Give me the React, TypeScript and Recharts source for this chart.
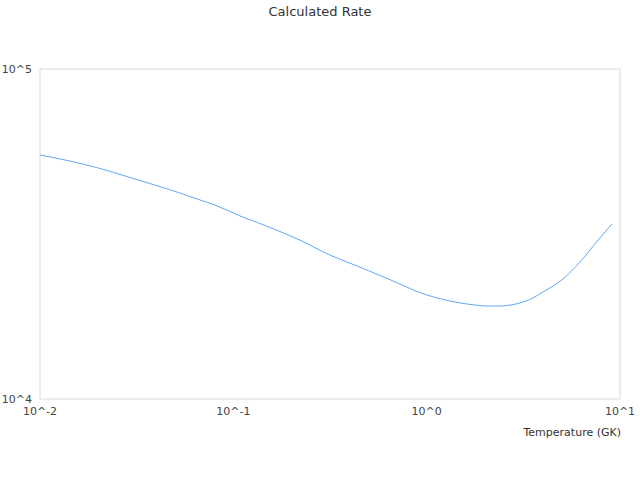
import { LineChart, Line, XAxis, YAxis, ReferenceArea } from "recharts";

const temperatures = [
  0.01, 0.0143, 0.0196, 0.0292, 0.0418, 0.053, 0.0672, 0.0804, 0.108,
  0.149, 0.221, 0.316, 0.401, 0.623, 0.728, 0.924, 1.08, 1.62, 2.13, 2.39,
  2.7, 3.04, 3.55, 3.86, 5.07, 6.21, 7.7, 9.09,
];
const rates = [
  54900, 52600, 50300, 46900, 44000, 42100, 40100, 38700, 35900,
  33400, 30300, 27300, 25800, 23200, 22300, 21000, 20400, 19400, 19130, 19130,
  19250, 19550, 20250, 20850, 23100, 26000, 30300, 33900,
];
const xTicks = [0.01, 0.1, 1, 10];
const yTicks = [10000, 100000];

const data = temperatures.map((t, i) => ({ t, rate: rates[i] }));

const fmtPow = (v: number) => `10^${Math.round(Math.log10(v))}`;
const FONT = "'DejaVu Sans', sans-serif";

export default function App() {
  return (
    <div
      style={{
        position: "absolute",
        left: 0,
        top: 0,
        width: 640,
        height: 480,
        background: "#fff",
        fontFamily: FONT,
      }}
    >
      <div
        style={{
          position: "absolute",
          top: 4,
          width: 640,
          textAlign: "center",
          fontSize: 13,
          lineHeight: "16px",
          color: "#333",
        }}
      >
        Calculated Rate
      </div>
      <LineChart
        width={640}
        height={480}
        data={data}
        margin={{ top: 69, right: 20, bottom: 41, left: 0 }}
      >
        <XAxis
          dataKey="t"
          type="number"
          scale="log"
          domain={[0.01, 10]}
          ticks={xTicks}
          tickFormatter={fmtPow}
          allowDataOverflow
          axisLine={false}
          tickLine={false}
          height={40}
          tick={{ fill: "#444", fontSize: 11, fontFamily: FONT }}
          label={{
            value: "Temperature (GK)",
            position: "insideBottomRight",
            offset: 0,
            dx: 1,
            dy: -3,
            fill: "#333",
            fontSize: 11,
            fontFamily: FONT,
          }}
        />
        <YAxis
          type="number"
          scale="log"
          domain={[10000, 100000]}
          ticks={yTicks}
          tickFormatter={fmtPow}
          allowDataOverflow
          axisLine={false}
          tickLine={false}
          width={40}
          tick={{ fill: "#444", fontSize: 11, fontFamily: FONT }}
        />
        <ReferenceArea
          x1={0.01}
          x2={10}
          y1={10000}
          y2={100000}
          fill="transparent"
          stroke="#d9d9d9"
          strokeWidth={1}
          ifOverflow="visible"
        />
        <Line
          type="monotone"
          dataKey="rate"
          stroke="#5fa8f5"
          strokeWidth={1}
          dot={false}
          isAnimationActive={false}
        />
      </LineChart>
    </div>
  );
}
